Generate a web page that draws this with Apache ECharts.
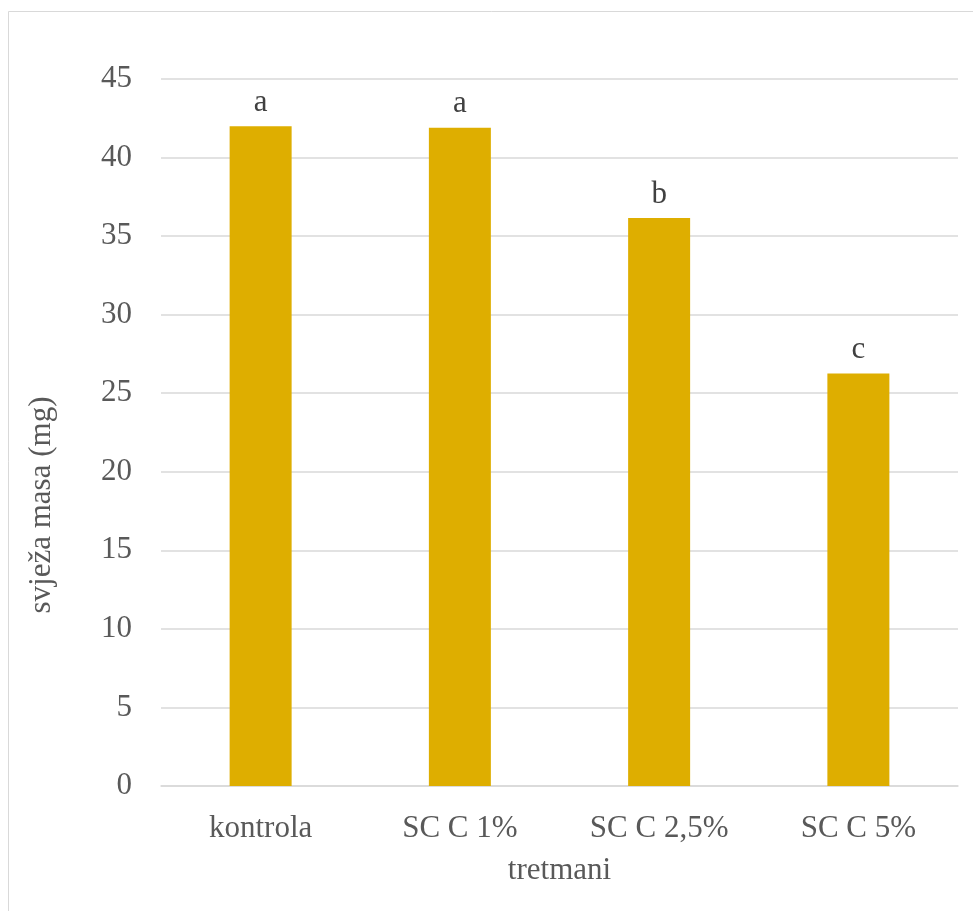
<!DOCTYPE html>
<html>
<head>
<meta charset="utf-8">
<script src="https://cdn.jsdelivr.net/npm/echarts@6/dist/echarts.min.js"></script>
<style>
html,body{margin:0;padding:0;background:#fff;}
#c{width:973px;height:911px;}
</style>
</head>
<body>
<div id="c"></div>
<script>
var categories = ['kontrola', 'SC C 1%', 'SC C 2,5%', 'SC C 5%'];
var values = [42.0, 41.9, 36.15, 26.25];
var letters = ['a', 'a', 'b', 'c'];
var yTicks = [0, 5, 10, 15, 20, 25, 30, 35, 40, 45];

var FONT = '"Liberation Serif", "Times New Roman", serif';
var chart = echarts.init(document.getElementById('c'));
chart.setOption({
  backgroundColor: '#fff',
  animation: false,
  grid: {left: 161, right: 15, top: 79, bottom: 125},
  graphic: [
    {type: 'rect', shape: {x: 8.5, y: 11.5, width: 1000, height: 1000},
     style: {fill: 'none', stroke: '#D9D9D9', lineWidth: 1}, z: -1},
    {type: 'text', x: 42, y: 505, rotation: Math.PI / 2,
     style: {text: 'svježa masa (mg)', font: '31px ' + FONT, fill: '#595959',
             textAlign: 'center', textVerticalAlign: 'middle'}}
  ],
  xAxis: {
    type: 'category',
    data: categories,
    name: 'tretmani',
    nameLocation: 'middle',
    nameGap: 69,
    nameTextStyle: {fontFamily: FONT, fontSize: 31, color: '#595959'},
    axisLine: {show: true, lineStyle: {color: '#D9D9D9', width: 1.5}},
    axisTick: {show: false},
    axisLabel: {fontFamily: FONT, fontSize: 31, color: '#595959', margin: 27}
  },
  yAxis: {
    type: 'value',
    min: yTicks[0],
    max: yTicks[yTicks.length - 1],
    interval: 5,
    axisLine: {show: false},
    axisTick: {show: false},
    axisLabel: {fontFamily: FONT, fontSize: 31, color: '#595959', margin: 29,
                verticalAlign: 'middle', padding: [4, 0, 0, 0]},
    splitLine: {lineStyle: {color: '#D9D9D9', width: 1.5}}
  },
  series: [{
    type: 'bar',
    data: values,
    barWidth: 62,
    itemStyle: {color: '#DEAE00'},
    label: {
      show: true,
      position: 'top',
      distance: 8,
      fontFamily: FONT,
      fontSize: 31,
      color: '#404040',
      formatter: function (p) { return letters[p.dataIndex]; }
    }
  }]
});
</script>
</body>
</html>
